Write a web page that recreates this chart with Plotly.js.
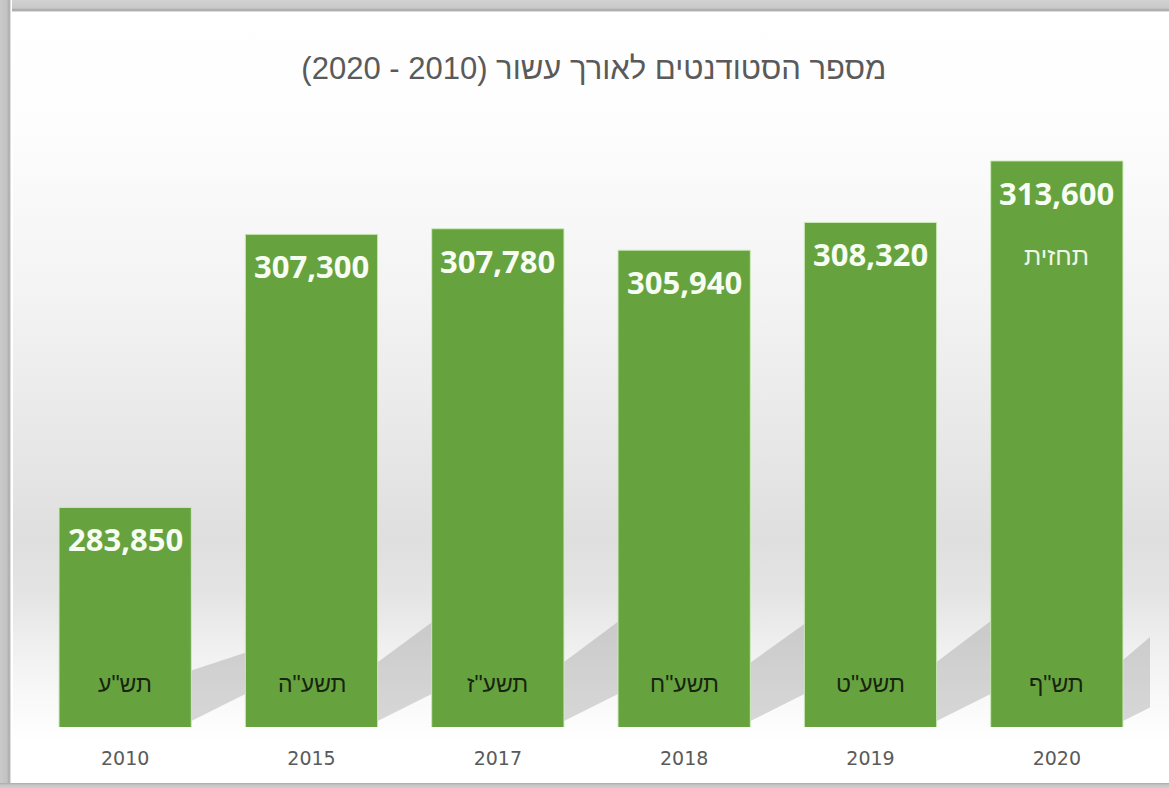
<!DOCTYPE html>
<html>
<head>
<meta charset="utf-8">
<script src="https://cdn.plot.ly/plotly-3.0.1.min.js"></script>
<style>
  html, body { margin: 0; padding: 0; width: 1169px; height: 788px; overflow: hidden; background: #c4c4c4; }
  #topband { position: absolute; left: 0; top: 0; width: 1169px; height: 12px;
    background: linear-gradient(to bottom, #d2d2d2 0px, #c9c9c9 8px, #a6a6a6 10px, #b8b8b8 11px, #ffffff 12px); }
  #leftband { position: absolute; left: 0; top: 0; width: 12px; height: 788px;
    background: linear-gradient(to right, #cacaca 0px, #c2c2c2 7px, #acacac 9px, #bcbcbc 10px, #ffffff 11px); }
  #panel { position: absolute; left: 12px; top: 12px; width: 1157px; height: 771px;
    border-top: 1px solid #ffffff; border-left: 1px solid #ffffff; box-sizing: border-box;
    background: linear-gradient(to bottom,
      #ffffff 0px, #fdfdfd 115px, #f3f3f3 285px, #e7e7e7 435px, #dfdfdf 525px,
      #e4e4e4 580px, #efefef 630px, #f8f8f8 680px, #ffffff 730px, #ffffff 771px); }
  #bottomband { position: absolute; left: 0; top: 783px; width: 1169px; height: 5px;
    background: linear-gradient(to bottom, #a9a9a9 0px, #c6c6c6 2px, #cfcfcf 5px); }
  #chart { position: absolute; left: 0; top: 0; width: 1169px; height: 788px; }
</style>
</head>
<body>
<div id="topband"></div>
<div id="leftband"></div>
<div id="panel"></div>
<div id="bottomband"></div>
<div id="chart"></div>
<script>
// ---- data ----
const years = ['2010', '2015', '2017', '2018', '2019', '2020'];
const students = [283850, 307300, 307780, 305940, 308320, 313600];
const hebrewYears = ['תש"ע', 'תשע"ה', 'תשע"ז', 'תשע"ח', 'תשע"ט', 'תש"ף'];
const notes = ['', '', '', '', '', 'תחזית'];
const titleText = 'מספר הסטודנטים לאורך עשור (2010 - 2020)';
const yMin = 265000;
const yMax = 316000;

// ---- layout helpers ----
const pos = years.map((_, i) => i);
const barWidth = 0.71;
const halfBar = barWidth / 2;
const pxPerUnit = 594 / (yMax - yMin);

const annotations = [];
pos.forEach((p, i) => {
  annotations.push({
    x: p, y: students[i], xref: 'x', yref: 'y',
    text: students[i].toLocaleString('en-US'),
    showarrow: false, yanchor: 'middle', xanchor: 'center', yshift: -32,
    font: { family: 'Open Sans, Liberation Sans, sans-serif', size: 31, color: '#f7fdf2', weight: 700 }
  });
  annotations.push({
    x: p, y: yMin, xref: 'x', yref: 'y',
    text: hebrewYears[i],
    showarrow: false, yanchor: 'middle', xanchor: 'center', yshift: 43,
    font: { family: 'Liberation Sans, DejaVu Sans, sans-serif', size: 23, color: '#18240f' }
  });
  if (notes[i]) {
    annotations.push({
      x: p, y: students[i], xref: 'x', yref: 'y',
      text: notes[i],
      showarrow: false, yanchor: 'middle', xanchor: 'center', yshift: -95,
      font: { family: 'Liberation Sans, DejaVu Sans, sans-serif', size: 25, color: '#eef7e6' }
    });
  }
});

// decorative cast shadows to the right of each bar
const shapes = students.map((v, i) => {
  const h = (v - yMin) * pxPerUnit;
  const topStart = 50 + 0.03 * h;
  const topEnd = topStart + 0.09 * h;
  return {
    type: 'path', layer: 'below',
    xref: 'x', yref: 'y', xsizemode: 'pixel', ysizemode: 'pixel',
    xanchor: pos[i] + halfBar, yanchor: yMin,
    path: `M 0 6 L 0 ${topStart.toFixed(1)} L 60 ${topEnd.toFixed(1)} L 60 36 Z`,
    fillcolor: 'rgba(110,110,110,0.26)', line: { width: 0 }
  };
});

const trace = {
  type: 'bar',
  x: pos,
  y: students,
  width: barWidth,
  marker: { color: '#66a33f', line: { color: 'rgba(205,235,185,0.95)', width: 1 } },
  hoverinfo: 'skip'
};

const layout = {
  width: 1169, height: 788,
  paper_bgcolor: 'rgba(0,0,0,0)', plot_bgcolor: 'rgba(0,0,0,0)',
  margin: { l: 32, r: 19, t: 133, b: 61 },
  showlegend: false,
  title: {
    text: '\u202B' + titleText + '\u202C',
    x: 0.508, xanchor: 'center', y: 0.914, yanchor: 'middle', yref: 'container',
    font: { family: 'Liberation Sans, Arial, sans-serif', size: 31, color: '#5a5a5a' }
  },
  xaxis: {
    type: 'linear', range: [-0.5, years.length - 0.5], autorange: false,
    tickmode: 'array', tickvals: pos, ticktext: years,
    showgrid: false, zeroline: false, showline: false, ticks: '',
    ticklabelstandoff: 18,
    tickfont: { family: 'DejaVu Sans, sans-serif', size: 19, color: '#5a5a5a' }
  },
  yaxis: {
    range: [yMin, yMax], autorange: false, showgrid: false, zeroline: false, showline: false,
    showticklabels: false, ticks: ''
  },
  annotations: annotations,
  shapes: shapes
};

Plotly.newPlot('chart', [trace], layout, { staticPlot: true, displayModeBar: false });
</script>
</body>
</html>
